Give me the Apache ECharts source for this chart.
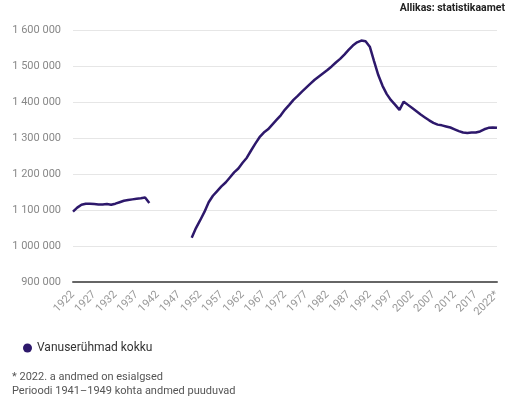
<!DOCTYPE html>
<html>
<head>
<meta charset="utf-8">
<script src="https://cdn.jsdelivr.net/npm/echarts@6/dist/echarts.min.js"></script>
<style>
html,body{margin:0;padding:0;background:#fff;}
#c{width:513px;height:396px;}
</style>
</head>
<body>
<div id="c"></div>
<script>
var seriesName = 'Vanuserühmad kokku';
var years = [];
for (var y = 1922; y <= 2022; y++) years.push(y === 2022 ? '2022*' : String(y));

// population, thousands (1922–1940, 1941–1949 missing, 1950–2022)
var prewar = [1096, 1107, 1115, 1118, 1118, 1117, 1116, 1116, 1117, 1115,
              1118, 1122, 1126, 1128, 1130, 1132, 1133, 1135, 1120];
var missing = [null, null, null, null, null, null, null, null, null];
var postwar = [1023, 1050, 1072, 1095, 1122, 1140, 1153, 1166, 1177, 1191,
               1205, 1216, 1232, 1246, 1266, 1285, 1303, 1316, 1325, 1338,
               1351, 1364, 1380, 1393, 1407, 1418, 1430, 1441, 1452, 1463,
               1472, 1481, 1490, 1500, 1511, 1521, 1533, 1546, 1558, 1567,
               1572, 1570, 1555, 1515, 1476, 1446, 1423, 1406, 1393, 1379,
               1402, 1393, 1384, 1375, 1366, 1358, 1350, 1343, 1338, 1336,
               1333, 1330, 1325, 1320, 1316, 1315, 1316, 1316, 1319, 1325,
               1329, 1330, 1329];
var values = prewar.concat(missing, postwar).map(function (v) { return v === null ? null : v * 1000; });

var footnotes = ['* 2022. a andmed on esialgsed', 'Perioodi 1941–1949 kohta andmed puuduvad'];
var sourceText = 'Allikas: statistikaamet';

var chart = echarts.init(document.getElementById('c'), null, {renderer: 'canvas'});
var color = '#2d186b';
chart.setOption({
  animation: false,
  textStyle: {fontFamily: 'Roboto'},
  graphic: [
    {type: 'text', right: 8, top: 3, style: {text: sourceText, font: 'bold 10.5px Roboto', fill: '#222'}},
    {type: 'text', left: 12, top: 370, style: {text: footnotes.join('\n'), font: '11px Roboto', fill: '#555', lineHeight: 14}}
  ],
  legend: {
    left: 18, top: 337, icon: 'circle', itemWidth: 9, itemHeight: 9, itemGap: 10,
    textStyle: {color: '#333', fontSize: 12, fontFamily: 'Roboto'},
    data: [seriesName]
  },
  grid: {left: 73, right: 16, top: 30.5, bottom: 114, containLabel: false},
  xAxis: {
    type: 'category', data: years, boundaryGap: false,
    axisLine: {show: true, lineStyle: {color: '#666', width: 2}},
    axisTick: {show: false},
    axisLabel: {interval: 4, rotate: 45, color: '#999', fontSize: 11, margin: 11, fontFamily: 'Roboto'},
    splitLine: {show: false}
  },
  yAxis: {
    type: 'value', min: 900000, max: 1600000, interval: 100000,
    axisLine: {show: false}, axisTick: {show: false},
    axisLabel: {color: '#888', fontSize: 11, margin: 12, fontFamily: 'Roboto',
      formatter: function (v) { return String(v).replace(/\B(?=(\d{3})+(?!\d))/g, ' '); }},
    splitLine: {lineStyle: {color: '#e6e6e6', width: 1}}
  },
  series: [{
    name: seriesName, type: 'line', data: values, connectNulls: false,
    showSymbol: false, symbol: 'circle', color: color,
    lineStyle: {color: color, width: 2.5}
  }]
});
</script>
</body>
</html>
